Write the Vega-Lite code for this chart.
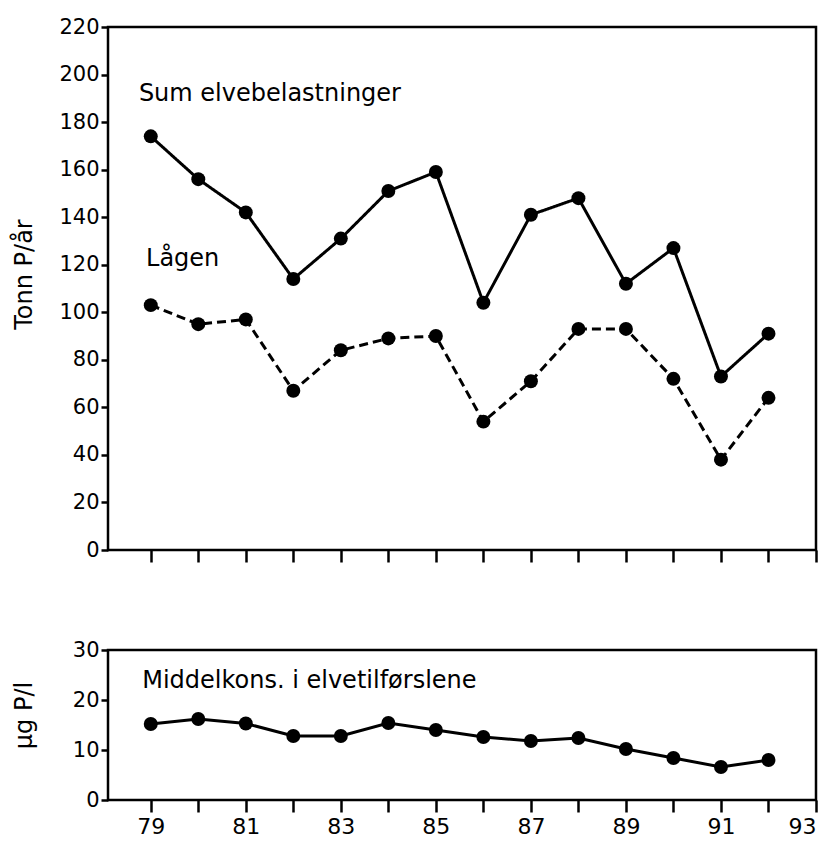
{
  "$schema": "https://vega.github.io/schema/vega-lite/v6.json",
  "background": "white",
  "padding": {"left": 10, "top": 14, "right": 4, "bottom": 5},
  "spacing": 72,
  "config": {
    "font": "DejaVu Sans",
    "view": {"stroke": "black", "strokeWidth": 2.5},
    "axis": {
      "domain": false,
      "grid": false,
      "ticks": true,
      "tickColor": "black",
      "tickWidth": 2.5,
      "labelColor": "black",
      "labelFont": "DejaVu Sans",
      "labelFontSize": 21,
      "titleFont": "DejaVu Sans",
      "titleFontSize": 24,
      "titleFontWeight": "normal",
      "titleColor": "black"
    }
  },
  "datasets": {
    "load": [
      {"year": 79, "series": "Sum", "value": 174},
      {"year": 80, "series": "Sum", "value": 156},
      {"year": 81, "series": "Sum", "value": 142},
      {"year": 82, "series": "Sum", "value": 114},
      {"year": 83, "series": "Sum", "value": 131},
      {"year": 84, "series": "Sum", "value": 151},
      {"year": 85, "series": "Sum", "value": 159},
      {"year": 86, "series": "Sum", "value": 104},
      {"year": 87, "series": "Sum", "value": 141},
      {"year": 88, "series": "Sum", "value": 148},
      {"year": 89, "series": "Sum", "value": 112},
      {"year": 90, "series": "Sum", "value": 127},
      {"year": 91, "series": "Sum", "value": 73},
      {"year": 92, "series": "Sum", "value": 91},
      {"year": 79, "series": "Lågen", "value": 103},
      {"year": 80, "series": "Lågen", "value": 95},
      {"year": 81, "series": "Lågen", "value": 97},
      {"year": 82, "series": "Lågen", "value": 67},
      {"year": 83, "series": "Lågen", "value": 84},
      {"year": 84, "series": "Lågen", "value": 89},
      {"year": 85, "series": "Lågen", "value": 90},
      {"year": 86, "series": "Lågen", "value": 54},
      {"year": 87, "series": "Lågen", "value": 71},
      {"year": 88, "series": "Lågen", "value": 93},
      {"year": 89, "series": "Lågen", "value": 93},
      {"year": 90, "series": "Lågen", "value": 72},
      {"year": 91, "series": "Lågen", "value": 38},
      {"year": 92, "series": "Lågen", "value": 64}
    ],
    "conc": [
      {"year": 79, "value": 15.2},
      {"year": 80, "value": 16.2},
      {"year": 81, "value": 15.3},
      {"year": 82, "value": 12.8},
      {"year": 83, "value": 12.8},
      {"year": 84, "value": 15.4},
      {"year": 85, "value": 14.0},
      {"year": 86, "value": 12.6},
      {"year": 87, "value": 11.8},
      {"year": 88, "value": 12.4},
      {"year": 89, "value": 10.2},
      {"year": 90, "value": 8.4},
      {"year": 91, "value": 6.6},
      {"year": 92, "value": 8.0}
    ],
    "topLabels": [
      {"year": 78.75, "value": 189, "label": "Sum elvebelastninger"},
      {"year": 78.9, "value": 119.5, "label": "Lågen"}
    ],
    "bottomLabels": [
      {"year": 78.82, "value": 22.4, "label": "Middelkons. i elvetilførslene"}
    ]
  },
  "vconcat": [
    {
      "width": 708,
      "height": 523,
      "layer": [
        {
          "data": {"name": "load"},
          "mark": {"type": "line", "color": "black", "strokeWidth": 3},
          "encoding": {
            "x": {
              "field": "year",
              "type": "quantitative",
              "scale": {"domain": [78.1, 93], "nice": false, "zero": false},
              "axis": {"values": [79, 80, 81, 82, 83, 84, 85, 86, 87, 88, 89, 90, 91, 92, 93], "labels": false, "tickSize": 12, "title": null}
            },
            "y": {
              "field": "value",
              "type": "quantitative",
              "scale": {"domain": [0, 220], "nice": false, "zero": true},
              "axis": {"values": [0, 20, 40, 60, 80, 100, 120, 140, 160, 180, 200, 220], "tickSize": 7, "labelPadding": 2, "title": "Tonn P/år", "titleX": -72, "titleY": 247}
            },
            "strokeDash": {"field": "series", "type": "nominal", "scale": {"domain": ["Sum", "Lågen"], "range": [[1, 0], [9, 5]]}, "legend": null}
          }
        },
        {
          "data": {"name": "load"},
          "mark": {"type": "point", "filled": true, "color": "black", "opacity": 1, "size": 195},
          "encoding": {
            "x": {"field": "year", "type": "quantitative"},
            "y": {"field": "value", "type": "quantitative"}
          }
        },
        {
          "data": {"name": "topLabels"},
          "mark": {"type": "text", "align": "left", "baseline": "alphabetic", "fontSize": 24, "color": "black", "font": "DejaVu Sans"},
          "encoding": {
            "x": {"field": "year", "type": "quantitative"},
            "y": {"field": "value", "type": "quantitative"},
            "text": {"field": "label", "type": "nominal"}
          }
        }
      ]
    },
    {
      "width": 708,
      "height": 150,
      "layer": [
        {
          "data": {"name": "conc"},
          "mark": {"type": "line", "color": "black", "strokeWidth": 3},
          "encoding": {
            "x": {
              "field": "year",
              "type": "quantitative",
              "scale": {"domain": [78.1, 93], "nice": false, "zero": false},
              "axis": {"values": [79, 80, 81, 82, 83, 84, 85, 86, 87, 88, 89, 90, 91, 92, 93], "labelExpr": "datum.value % 2 == 1 ? datum.label : ''", "tickSize": 12, "labelPadding": 4, "labelFontSize": 22, "title": null}
            },
            "y": {
              "field": "value",
              "type": "quantitative",
              "scale": {"domain": [0, 30], "nice": false, "zero": true},
              "axis": {"values": [0, 10, 20, 30], "tickSize": 7, "labelPadding": 2, "title": "µg P/l", "titleX": -72, "titleY": 65}
            }
          }
        },
        {
          "data": {"name": "conc"},
          "mark": {"type": "point", "filled": true, "color": "black", "opacity": 1, "size": 195},
          "encoding": {
            "x": {"field": "year", "type": "quantitative"},
            "y": {"field": "value", "type": "quantitative"}
          }
        },
        {
          "data": {"name": "bottomLabels"},
          "mark": {"type": "text", "align": "left", "baseline": "alphabetic", "fontSize": 24, "color": "black", "font": "DejaVu Sans"},
          "encoding": {
            "x": {"field": "year", "type": "quantitative"},
            "y": {"field": "value", "type": "quantitative"},
            "text": {"field": "label", "type": "nominal"}
          }
        }
      ]
    }
  ]
}
